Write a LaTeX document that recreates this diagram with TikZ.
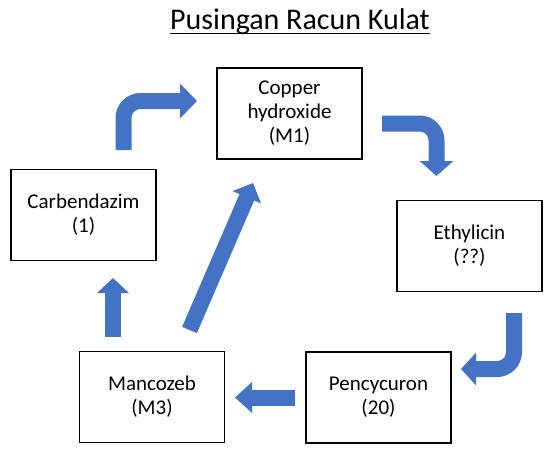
\documentclass[tikz,border=0pt]{standalone}
\usepackage{fontspec}
\setmainfont{Carlito}
\usetikzlibrary{arrows.meta}
\definecolor{arrowblue}{HTML}{4472C4}
\begin{document}
\begin{tikzpicture}[x=1pt,y=-1pt,
  box/.style={draw=black,line width=1.4pt,minimum width=145pt,minimum height=91pt,
    align=center,inner sep=0pt,font=\fontsize{21}{24}\selectfont},
  blockarrow/.style={draw=arrowblue,line width=16pt,line cap=butt,rounded corners=17pt}
]
\useasboundingbox (0,0) rectangle (556,458);
\node[anchor=base,inner sep=0pt,font=\fontsize{30}{33}\selectfont] (title) at (300,29) {Pusingan Racun Kulat};
\draw[line width=1.8pt] ([yshift=-4.5pt]title.base west) -- ([yshift=-4.5pt]title.base east);
\node[box] (cu) at (289.5,113.5) {Copper\\hydroxide\\(M1)};
\node[box] (cb) at (83.5,215) {Carbendazim\\(1)};
\node[box] (et) at (469.5,246) {Ethylicin\\(??)};
\node[box] (mz) at (152,397) {Mancozeb\\(M3)};
\node[box] (pc) at (378.5,397.5) {Pencycuron\\(20)};
% arrow coordinates
\coordinate (a1s) at (123.5,150); \coordinate (a1m) at (123.5,101); \coordinate (a1e) at (197,101);
\coordinate (a2s) at (382,123.5); \coordinate (a2m) at (436.5,123.5); \coordinate (a2e) at (436.5,176);
\coordinate (a3s) at (514,313); \coordinate (a3m) at (514,369); \coordinate (a3e) at (461,369);
\coordinate (a4s) at (295,397.5); \coordinate (a4e) at (235,397.5);
\coordinate (a5s) at (113,337); \coordinate (a5e) at (113,278);
\coordinate (a6s) at (189.5,330); \coordinate (a6e) at (253,183);
\draw[blockarrow,-{Triangle[length=17pt,width=34pt]}] (a1s) -- (a1m) -- (a1e);
\draw[blockarrow,-{Triangle[length=15pt,width=33pt]}] (a2s) -- (a2m) -- (a2e);
\draw[blockarrow,-{Triangle[length=15pt,width=32pt]}] (a3s) -- (a3m) -- (a3e);
\draw[blockarrow,-{Triangle[length=17pt,width=30pt]}] (a4s) -- (a4e);
\draw[blockarrow,-{Triangle[length=15pt,width=31pt]}] (a5s) -- (a5e);
\draw[blockarrow,-{Triangle[length=15.5pt,width=30pt]}] (a6s) -- (a6e);
\end{tikzpicture}
\end{document}
